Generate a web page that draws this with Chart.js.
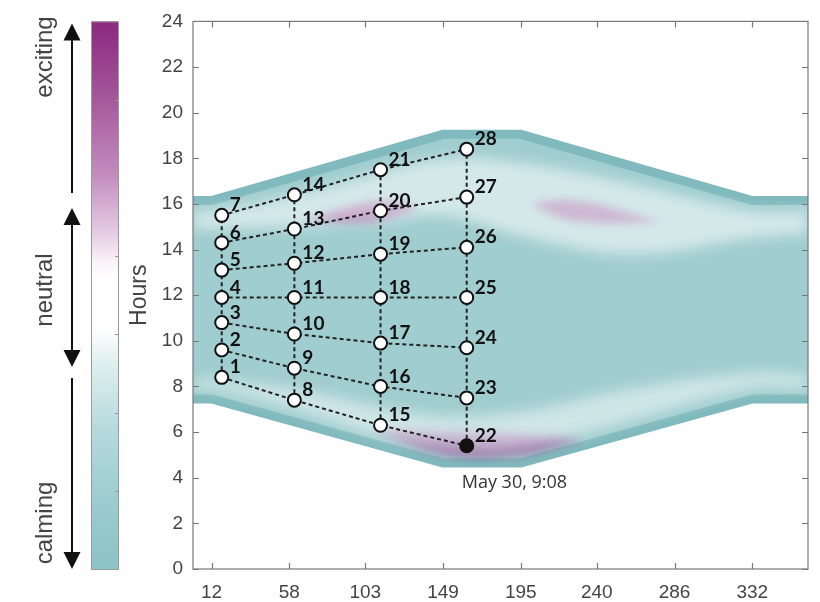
<!DOCTYPE html>
<html>
<head>
<meta charset="utf-8">
<script src="https://cdn.jsdelivr.net/npm/chart.js@4.4.1/dist/chart.umd.min.js"></script>
<style>
  html, body { margin: 0; padding: 0; background: #fff; }
</style>
</head>
<body>
<canvas id="myChart" width="820" height="602"></canvas>
<script>
// x = day of year, y = hour of day
const xTicks = [12, 58, 103, 149, 195, 240, 286, 332];
const pointX = [18, 61, 112, 163];
// hours per column, bottom to top (points 1-7, 8-14, 15-21, 22-28)
const col1 = [8.4, 9.6, 10.8, 11.9, 13.1, 14.3, 15.5];
const col2 = [7.4, 8.8, 10.3, 11.9, 13.4, 14.9, 16.4];
const col3 = [6.3, 8.0, 9.9, 11.9, 13.8, 15.7, 17.5];
const col4 = [5.4, 7.5, 9.7, 11.9, 14.1, 16.3, 18.4];
const highlightNo = 22;
const highlightText = 'May 30, 9:08';

// band outline (centre of the dark rim)
const bandX = [1, 12, 149, 195, 332, 365];
const bandTop = [16.15, 16.15, 19.05, 19.05, 16.15, 16.15];
const bandBottom = [7.45, 7.45, 4.65, 4.65, 7.45, 7.45];

// light zones inside the band
const lightX = [1, 12, 61, 112, 149, 195, 260, 332, 365];
const lightTopHi = [15.7, 15.7, 16.4, 17.4, 18.0, 17.8, 16.9, 15.7, 15.7];
const lightTopLo = [14.9, 14.9, 15.0, 15.2, 15.5, 14.6, 13.8, 14.5, 14.7];
const lightBotHi = [8.3, 8.3, 7.9, 7.1, 6.7, 6.9, 7.9, 8.6, 8.5];
const lightBotLo = [7.9, 7.9, 7.0, 5.8, 5.3, 5.3, 6.5, 7.9, 7.9];

// purple (exciting) patches
const purpleAX = [67, 100, 115, 135];
const purpleAHi = [15.3, 16.0, 16.1, 15.9];
const purpleALo = [15.3, 15.2, 15.4, 15.9];
const purpleBX = [200, 227, 279];
const purpleBHi = [16.0, 16.15, 15.2];
const purpleBLo = [16.0, 15.25, 15.2];
const purpleCX = [108, 150, 195, 232];
const purpleCHi = [6.1, 6.0, 5.9, 5.7];
const purpleCLo = [6.1, 5.0, 5.0, 5.7];

const rim = 'rgb(128,186,190)';
const teal = 'rgb(160,205,207)';

const xy = (xs, ys) => xs.map((x, i) => ({x: x, y: ys[i]}));
const cols = [col1, col2, col3, col4];

let datasets = [];
datasets.push({label: 'band top', data: xy(bandX, bandTop), fill: '+1', backgroundColor: teal,
    borderColor: rim, borderWidth: 9, pointRadius: 0, order: 10});
datasets.push({label: 'band bottom', data: xy(bandX, bandBottom), fill: false,
    borderColor: rim, borderWidth: 9, pointRadius: 0, order: 9});

const patch = (xs, hi, lo, color, blur) => {
    datasets.push({data: xy(xs, hi), fill: '+1', backgroundColor: color, borderColor: 'transparent',
        pointRadius: 0, tension: 0.4, order: 8, blur: blur});
    datasets.push({data: xy(xs, lo), fill: false, borderColor: 'transparent',
        pointRadius: 0, tension: 0.4, order: 8});
};
patch(lightX, lightTopHi, lightTopLo, 'rgba(255,255,255,0.55)', 7);
patch(lightX, lightBotHi, lightBotLo, 'rgba(255,255,255,0.5)', 7);
patch(purpleAX, purpleAHi, purpleALo, 'rgba(140,50,135,0.75)', 4);
patch(purpleBX, purpleBHi, purpleBLo, 'rgba(140,50,135,0.7)', 4);
patch(purpleCX, purpleCHi, purpleCLo, 'rgba(140,50,135,0.6)', 5);

// dotted grid between the points
for (let r = 0; r < 7; r++) {
    datasets.push({data: cols.map((col, c) => ({x: pointX[c], y: col[r]})), borderColor: '#222',
        borderWidth: 2, borderDash: [4, 3], pointRadius: 0, fill: false, order: 2});
}
cols.forEach((col, c) => {
    datasets.push({data: col.map(h => ({x: pointX[c], y: h})), borderColor: '#222',
        borderWidth: 2, borderDash: [4, 3], pointRadius: 0, fill: false, order: 2});
});

let pts = [];
cols.forEach((col, c) => col.forEach(h => pts.push({x: pointX[c], y: h})));
datasets.push({label: 'points', data: pts, showLine: false, pointRadius: 6.5, pointBorderWidth: 2,
    pointBorderColor: '#111',
    pointBackgroundColor: pts.map((p, i) => i + 1 === highlightNo ? '#111' : '#fff'), order: 1});

// blur for soft patches (has to run before the filler plugin)
const soft = {
    id: 'soft',
    beforeDatasetDraw(chart, args) {
        const b = chart.data.datasets[args.index].blur;
        if (b) { chart.ctx.save(); chart.ctx.filter = 'blur(' + b + 'px)'; }
    },
    afterDatasetDraw(chart, args) {
        if (chart.data.datasets[args.index].blur) chart.ctx.restore();
    }
};
try {
    const filler = Chart.registry.plugins.get('filler');
    Chart.unregister(filler);
    Chart.register(soft, filler);
} catch (e) {
    console.log(e);
}

const numbers = {
    id: 'numbers',
    afterDatasetsDraw(chart) {
        const ctx = chart.ctx;
        const meta = chart.getDatasetMeta(chart.data.datasets.length - 1);
        ctx.save();
        ctx.fillStyle = '#111';
        ctx.font = 'bold 19px Lato';
        ctx.textBaseline = 'middle';
        meta.data.forEach((el, i) => {
            ctx.fillText(String(i + 1), el.x + 8, el.y - 10);
        });
        const h = meta.data[highlightNo - 1];
        ctx.fillStyle = '#333';
        ctx.font = '18px "Open Sans"';
        ctx.textBaseline = 'alphabetic';
        ctx.fillText(highlightText, h.x - 5, h.y + 42);
        ctx.restore();
    }
};

const frame = {
    id: 'frame',
    afterDraw(chart) {
        const {ctx, chartArea: a, scales} = chart;
        ctx.save();
        ctx.strokeStyle = '#777';
        ctx.lineWidth = 1.2;
        ctx.strokeRect(a.left, a.top, a.right - a.left, a.bottom - a.top);
        ctx.beginPath();
        scales.x.ticks.forEach(t => {
            const px = Math.round(scales.x.getPixelForValue(t.value)) + 0.5;
            ctx.moveTo(px, a.bottom); ctx.lineTo(px, a.bottom - 6);
            ctx.moveTo(px, a.top); ctx.lineTo(px, a.top + 6);
        });
        scales.y.ticks.forEach(t => {
            const py = Math.round(scales.y.getPixelForValue(t.value)) + 0.5;
            ctx.moveTo(a.left, py); ctx.lineTo(a.left + 6, py);
            ctx.moveTo(a.right, py); ctx.lineTo(a.right - 6, py);
        });
        ctx.stroke();

        // y title
        const mid = (a.top + a.bottom) / 2;
        ctx.fillStyle = '#444';
        ctx.font = '23px "Liberation Sans"';
        ctx.textAlign = 'center';
        ctx.textBaseline = 'middle';
        ctx.save();
        ctx.translate(140, mid);
        ctx.rotate(-Math.PI / 2);
        ctx.fillText('Hours', 0, 0);
        ctx.restore();

        // colour bar
        const top = a.top, bot = a.bottom, x0 = 91, w = 27;
        const g = ctx.createLinearGradient(0, top, 0, bot);
        g.addColorStop(0, 'rgb(140,40,128)');
        g.addColorStop(0.12, 'rgb(160,80,150)');
        g.addColorStop(0.28, 'rgb(195,140,190)');
        g.addColorStop(0.38, 'rgb(226,200,224)');
        g.addColorStop(0.44, 'rgb(250,243,249)');
        g.addColorStop(0.47, '#fff');
        g.addColorStop(0.56, '#fff');
        g.addColorStop(0.62, 'rgb(225,240,240)');
        g.addColorStop(0.75, 'rgb(180,217,219)');
        g.addColorStop(0.9, 'rgb(152,202,205)');
        g.addColorStop(1, 'rgb(140,195,198)');
        ctx.fillStyle = g;
        ctx.fillRect(x0, top, w, bot - top);
        ctx.strokeStyle = '#999';
        ctx.lineWidth = 1;
        ctx.strokeRect(x0 + 0.5, top + 0.5, w, bot - top);
        ctx.beginPath();
        for (let k = 1; k < 7; k++) {
            const py = Math.round(top + (bot - top) * k / 7) + 0.5;
            ctx.moveTo(x0 + w, py); ctx.lineTo(x0 + w - 3, py);
        }
        ctx.stroke();

        // arrows
        const ax = 72;
        ctx.strokeStyle = '#111';
        ctx.fillStyle = '#111';
        ctx.lineWidth = 2;
        const shaft = (y1, y2) => { ctx.beginPath(); ctx.moveTo(ax, y1); ctx.lineTo(ax, y2); ctx.stroke(); };
        const head = (tip, dir) => {
            ctx.beginPath();
            ctx.moveTo(ax, tip);
            ctx.lineTo(ax - 8.5, tip + dir * 17);
            ctx.lineTo(ax + 8.5, tip + dir * 17);
            ctx.closePath();
            ctx.fill();
        };
        shaft(top + 12, 193); head(top + 2, 1);
        shaft(220, 355); head(208, 1); head(367, -1);
        shaft(378, bot - 10); head(bot, -1);

        ctx.fillStyle = '#444';
        ctx.font = '24px "Liberation Sans"';
        [['exciting', 57], ['neutral', 290], ['calming', 523]].forEach(([t, y]) => {
            ctx.save();
            ctx.translate(45, y);
            ctx.rotate(-Math.PI / 2);
            ctx.fillText(t, 0, 0);
            ctx.restore();
        });
        ctx.restore();
    }
};

Chart.defaults.font.family = '"Liberation Sans", Arial, sans-serif';

const myChart = new Chart(document.getElementById('myChart'), {
    type: 'line',
    data: {datasets: datasets},
    options: {
        responsive: false,
        animation: false,
        devicePixelRatio: 1,
        layout: {padding: {left: 0, right: 12, top: 13, bottom: 0}},
        plugins: {legend: {display: false}, tooltip: {enabled: false}},
        scales: {
            x: {
                type: 'linear', min: 1, max: 365,
                afterBuildTicks: (scale) => { scale.ticks = xTicks.map(v => ({value: v})); },
                afterFit: (scale) => { scale.height = 33; },
                grid: {display: false, drawTicks: false},
                border: {display: false},
                ticks: {padding: 12, color: '#444', font: {size: 19}, maxRotation: 0, autoSkip: false}
            },
            y: {
                min: 0, max: 24,
                afterFit: (scale) => { scale.width = 193; },
                grid: {display: false, drawTicks: false},
                border: {display: false},
                ticks: {stepSize: 2, padding: 10, color: '#444', font: {size: 19}}
            }
        }
    },
    plugins: [numbers, frame]
});
</script>
</body>
</html>
